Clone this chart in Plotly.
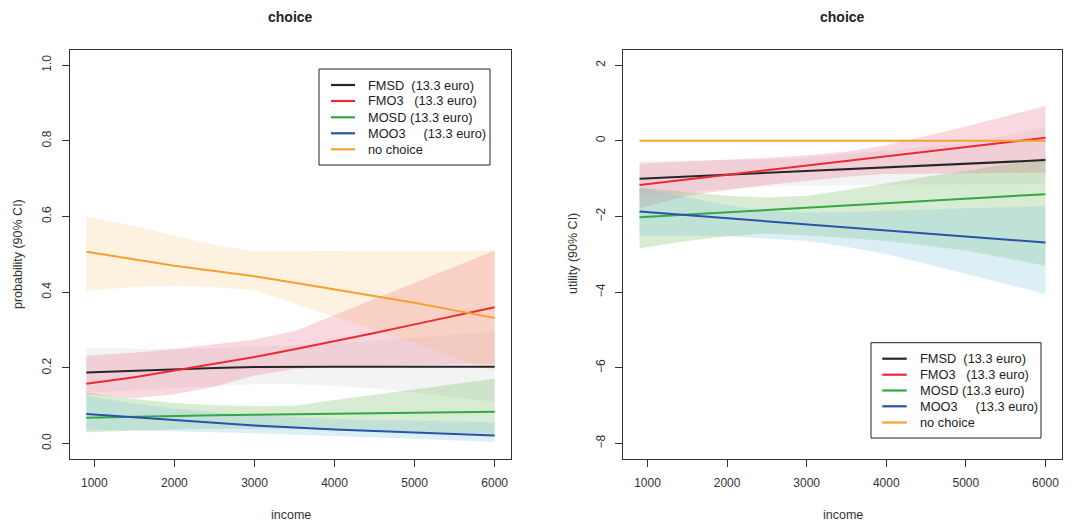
import plotly.graph_objects as go

# ---------------- data ----------------
income = [900, 1500, 2000, 2500, 3000, 3500, 4000, 4500, 5000, 5500, 6000]

labels = ["FMSD\u00a0\u00a0(13.3 euro)",
          "FMO3\u00a0\u00a0\u00a0(13.3 euro)",
          "MOSD (13.3 euro)",
          "MOO3\u00a0\u00a0\u00a0\u00a0\u00a0(13.3 euro)",
          "no choice"]

# probability (left panel)
prob_fmsd = [0.188, 0.193, 0.197, 0.200, 0.202, 0.203, 0.203, 0.203, 0.203, 0.203, 0.203]
prob_fmsd_hi = [0.252, 0.250, 0.250, 0.252, 0.255, 0.260, 0.265, 0.272, 0.280, 0.287, 0.295]
prob_fmsd_lo = [0.135, 0.142, 0.147, 0.152, 0.157, 0.157, 0.153, 0.145, 0.135, 0.122, 0.110]

prob_fmo3 = [0.158, 0.175, 0.193, 0.211, 0.229, 0.249, 0.270, 0.292, 0.315, 0.337, 0.360]
prob_fmo3_hi = [0.232, 0.240, 0.250, 0.262, 0.275, 0.297, 0.340, 0.383, 0.425, 0.468, 0.510]
prob_fmo3_lo = [0.130, 0.120, 0.130, 0.150, 0.180, 0.197, 0.203, 0.205, 0.207, 0.209, 0.210]

prob_mosd = [0.068, 0.071, 0.073, 0.075, 0.076, 0.077, 0.078, 0.080, 0.081, 0.082, 0.084]
prob_mosd_hi = [0.135, 0.118, 0.107, 0.101, 0.099, 0.100, 0.115, 0.129, 0.143, 0.157, 0.171]
prob_mosd_lo = [0.030, 0.034, 0.038, 0.040, 0.040, 0.039, 0.037, 0.035, 0.032, 0.028, 0.025]

prob_moo3 = [0.078, 0.070, 0.062, 0.055, 0.048, 0.042, 0.037, 0.033, 0.029, 0.025, 0.021]
prob_moo3_hi = [0.127, 0.105, 0.092, 0.082, 0.075, 0.070, 0.065, 0.062, 0.060, 0.058, 0.056]
prob_moo3_lo = [0.036, 0.035, 0.033, 0.030, 0.027, 0.024, 0.020, 0.016, 0.012, 0.008, 0.005]

prob_none = [0.507, 0.487, 0.470, 0.456, 0.442, 0.425, 0.407, 0.390, 0.372, 0.352, 0.332]
prob_none_hi = [0.600, 0.575, 0.550, 0.525, 0.508, 0.508, 0.509, 0.510, 0.510, 0.510, 0.510]
prob_none_lo = [0.404, 0.414, 0.417, 0.414, 0.405, 0.370, 0.335, 0.300, 0.265, 0.228, 0.190]

# utility (right panel)
util_fmsd = [-1.000, -0.942, -0.894, -0.846, -0.798, -0.750, -0.702, -0.654, -0.606, -0.558, -0.510]
util_fmsd_hi = [-0.53, -0.52, -0.51, -0.50, -0.44, -0.35, -0.25, -0.15, -0.06, 0.14, 0.35]
util_fmsd_lo = [-1.45, -1.35, -1.27, -1.20, -1.18, -1.18, -1.16, -1.15, -1.15, -1.15, -1.15]

util_fmo3 = [-1.170, -1.023, -0.900, -0.778, -0.655, -0.533, -0.410, -0.288, -0.165, -0.043, 0.080]
util_fmo3_hi = [-0.60, -0.55, -0.50, -0.45, -0.38, -0.29, -0.12, 0.12, 0.38, 0.65, 0.92]
util_fmo3_lo = [-1.78, -1.45, -1.30, -1.17, -1.05, -0.95, -0.88, -0.86, -0.85, -0.845, -0.84]

util_mosd = [-2.020, -1.948, -1.888, -1.829, -1.769, -1.709, -1.649, -1.589, -1.529, -1.470, -1.410]
util_mosd_hi = [-1.24, -1.35, -1.45, -1.50, -1.45, -1.30, -1.12, -0.95, -0.80, -0.63, -0.45]
util_mosd_lo = [-2.84, -2.65, -2.52, -2.45, -2.50, -2.57, -2.65, -2.77, -2.90, -3.10, -3.30]

util_moo3 = [-1.870, -1.966, -2.047, -2.127, -2.208, -2.288, -2.368, -2.449, -2.529, -2.610, -2.690]
util_moo3_hi = [-1.24, -1.50, -1.70, -1.85, -1.90, -1.88, -1.85, -1.81, -1.78, -1.75, -1.72]
util_moo3_lo = [-2.51, -2.50, -2.52, -2.58, -2.65, -2.80, -3.00, -3.25, -3.52, -3.78, -4.05]

util_none = [0.0] * len(income)

prob_ticks = [0.0, 0.2, 0.4, 0.6, 0.8, 1.0]
util_ticks = [-8, -6, -4, -2, 0, 2]
income_ticks = [1000, 2000, 3000, 4000, 5000, 6000]

# ---------------- styling ----------------
line_colors = ["#262626", "#EC2A32", "#33A845", "#2A52A8", "#F7A030"]
band_colors = ["rgba(160,160,160,0.13)", "rgba(235,100,130,0.25)",
               "rgba(100,180,80,0.25)", "rgba(120,190,220,0.25)",
               "rgba(245,175,80,0.18)"]
FONT = "Liberation Sans, Arial, Helvetica, sans-serif"

W, H = 1084, 524


def px(p):
    return p / W


def py(p):
    return 1 - p / H


fig = go.Figure()

left = [(prob_fmsd, prob_fmsd_hi, prob_fmsd_lo),
        (prob_fmo3, prob_fmo3_hi, prob_fmo3_lo),
        (prob_mosd, prob_mosd_hi, prob_mosd_lo),
        (prob_moo3, prob_moo3_hi, prob_moo3_lo),
        (prob_none, prob_none_hi, prob_none_lo)]
right = [(util_fmsd, util_fmsd_hi, util_fmsd_lo),
         (util_fmo3, util_fmo3_hi, util_fmo3_lo),
         (util_mosd, util_mosd_hi, util_mosd_lo),
         (util_moo3, util_moo3_hi, util_moo3_lo),
         (util_none, None, None)]

for panel, xa, ya in [(left, "x", "y"), (right, "x2", "y2")]:
    for i, (mid, hi, lo) in enumerate(panel):
        if hi is None:
            continue
        fig.add_trace(go.Scatter(
            x=income + income[::-1], y=hi + lo[::-1], fill="toself",
            fillcolor=band_colors[i], line=dict(width=0), mode="lines",
            hoverinfo="skip", showlegend=False, xaxis=xa, yaxis=ya))
    for i, (mid, hi, lo) in enumerate(panel):
        fig.add_trace(go.Scatter(
            x=income, y=mid, mode="lines", name=labels[i], showlegend=False,
            line=dict(color=line_colors[i], width=2), xaxis=xa, yaxis=ya))

axis_common = dict(showgrid=False, zeroline=False, showline=True, mirror=True,
                   linecolor="#333333", linewidth=1, ticks="outside", ticklen=7,
                   tickcolor="#333333", ticklabelstandoff=6,
                   tickfont=dict(family=FONT, size=12, color="#333333"))

# legend boxes in page pixels: (box x0, y0, x1, y1, line x0, line x1, text x, row y's)
legends = [
    (319, 69, 490, 165, 331, 355, 366, [85, 101, 117.3, 133.3, 149.3]),
    (871, 342.7, 1041, 438, 882.3, 906.7, 917.7, [358.7, 374.7, 390.5, 406.3, 422.5]),
]
shapes = []
annotations = []
for bx0, by0, bx1, by1, lx0, lx1, tx, rows in legends:
    shapes.append(dict(type="rect", xref="paper", yref="paper",
                       x0=px(bx0), x1=px(bx1), y0=py(by1), y1=py(by0),
                       line=dict(color="#222222", width=1), fillcolor="white", layer="above"))
    for i, ry in enumerate(rows):
        shapes.append(dict(type="line", xref="paper", yref="paper",
                           x0=px(lx0), x1=px(lx1), y0=py(ry), y1=py(ry),
                           line=dict(color=line_colors[i], width=2.2), layer="above"))
        annotations.append(dict(text=labels[i], x=px(tx), y=py(ry), xref="paper", yref="paper",
                                xanchor="left", yanchor="middle", showarrow=False,
                                font=dict(size=12.8, family=FONT, color="#222222")))

for cx in (290.5, 842.5):
    annotations.append(dict(text="<b>choice</b>", x=px(cx), y=py(17), xref="paper",
                            yref="paper", xanchor="center", yanchor="middle", showarrow=False,
                            font=dict(size=14, family=FONT, color="#222222")))
    annotations.append(dict(text="income", x=px(cx), y=py(515), xref="paper", yref="paper",
                            xanchor="center", yanchor="middle", showarrow=False,
                            font=dict(size=12.5, family=FONT, color="#333333")))
for tx, txt in ((18, "probability (90% CI)"), (573, "utility (90% CI)")):
    annotations.append(dict(text=txt, x=px(tx), y=py(254), xref="paper", yref="paper",
                            xanchor="center", yanchor="middle", showarrow=False,
                            textangle=-90, font=dict(size=12.5, family=FONT, color="#333333")))

fig.update_layout(
    width=W, height=H,
    margin=dict(l=0, r=0, t=0, b=0),
    paper_bgcolor="white", plot_bgcolor="white",
    font=dict(family=FONT, size=12, color="#333333"),
    showlegend=False,
    xaxis=dict(domain=[px(70), px(511)], range=[696, 6204], tickvals=income_ticks,
               anchor="y", **axis_common),
    yaxis=dict(domain=[py(458.7), py(50)], range=[-0.04, 1.04], tickvals=prob_ticks,
               tickformat=".1f", tickangle=-90, anchor="x", **axis_common),
    xaxis2=dict(domain=[px(623.3), px(1061.7)], range=[696, 6204], tickvals=income_ticks,
                anchor="y2", **axis_common),
    yaxis2=dict(domain=[py(458.7), py(50)], range=[-8.4, 2.4], tickvals=util_ticks,
                tickangle=-90, anchor="x2", **axis_common),
    shapes=shapes,
    annotations=annotations,
)

# remove the default page margin so the figure fills the window exactly
fig.write_html("out.html",
               config={"displayModeBar": False},
               post_script="document.body.style.margin='0';document.body.style.overflow='hidden';")
